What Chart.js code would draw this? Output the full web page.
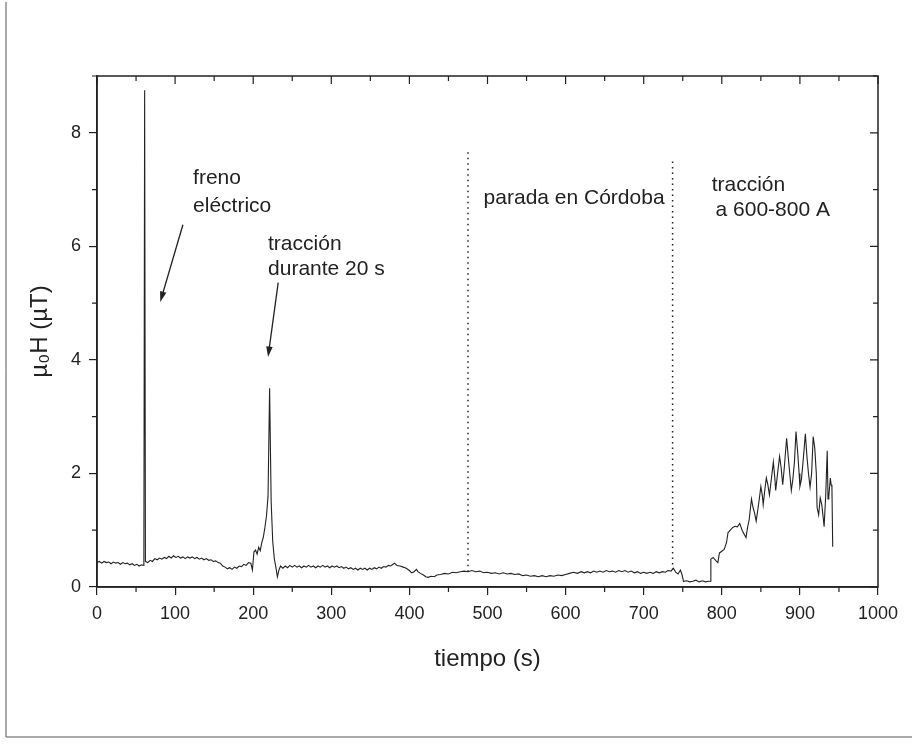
<!DOCTYPE html>
<html>
<head>
<meta charset="utf-8">
<script src="https://cdn.jsdelivr.net/npm/chart.js@4"></script>
<style>
    html, body { margin: 0; padding: 0; background: #fff; }
    #wrap { width: 912px; height: 745px; }
</style>
</head>
<body>
<div id="wrap"><canvas id="graph" width="912" height="745"></canvas></div>
<script>
// tiempo (s) y campo (µT)
const times = [
    0, 3, 6, 9, 12, 15, 18, 21, 24, 27, 30, 33, 36, 39, 42, 45, 48, 51, 54, 57, 60,
    61, 62, 65, 68, 71, 74, 77, 80, 83, 86, 89, 92, 95, 98, 101, 104, 107, 110, 113, 116, 119,
    122, 125, 128, 131, 134, 137, 140, 143, 146, 149, 152, 155, 158, 161, 164, 167, 170, 173,
    176, 179, 182, 185, 188, 191, 194, 197, 199, 201, 203, 205, 207, 209, 211, 213, 215, 217,
    219, 221, 223, 225, 227, 229, 231, 233, 235,
    238, 241, 244, 247, 250, 253, 256, 259, 262, 265, 268, 271, 274, 277, 280, 283, 286, 289,
    292, 295, 298, 301, 304, 307, 310, 313, 316, 319, 322, 325, 328, 331, 334, 337, 340, 343,
    346, 349, 352, 355, 358, 361, 364, 367, 370, 373, 376, 379, 381, 384, 388, 392, 396, 400,
    403, 406, 409, 411, 414, 418, 421, 424, 428, 432, 435, 440, 445, 450, 455, 460, 465, 470,
    475, 480, 485, 490, 495, 500, 505, 510, 515, 520, 525, 530, 535, 540, 545, 550, 555, 560,
    565, 570, 575, 580, 585, 590, 595, 600, 605, 610, 615, 620, 624, 628, 632, 636, 640, 644,
    648, 652, 656, 660, 664, 668, 672, 676, 680, 684, 688, 692, 696, 700, 704, 708, 712, 716,
    720, 724, 728, 731, 735, 738, 741, 744, 747, 749, 751, 755, 759, 763, 767, 771, 775, 779,
    783, 785, 786, 789, 792, 795, 797, 800, 803, 806, 808, 811, 814, 817, 820, 823, 826, 829,
    831, 833, 835, 838, 840, 842, 844, 846, 848, 850, 852, 853, 855, 857, 859, 861, 863, 866,
    868, 869, 871, 874, 876, 878, 880, 883, 885, 887, 889, 891, 893, 895, 897, 899, 900, 902,
    904, 907, 909, 911, 913, 915, 917, 919, 921, 922, 924, 926, 928, 930, 931, 933, 935, 936,
    937, 939, 940, 941, 942
];
const field = [
    0.43, 0.45, 0.42, 0.45, 0.43, 0.44, 0.41, 0.44, 0.42, 0.43, 0.40, 0.43, 0.41, 0.42, 0.39, 0.41, 0.38, 0.40, 0.37, 0.39, 0.38,
    8.75, 0.45, 0.43, 0.47, 0.45, 0.50, 0.48, 0.51, 0.49, 0.52, 0.50, 0.54, 0.51, 0.55, 0.52, 0.54, 0.51, 0.53, 0.50, 0.53, 0.51,
    0.53, 0.50, 0.52, 0.49, 0.51, 0.48, 0.50, 0.47, 0.48, 0.45, 0.46, 0.43, 0.42, 0.37, 0.35, 0.32, 0.34, 0.31,
    0.35, 0.33, 0.37, 0.36, 0.40, 0.38, 0.43, 0.42, 0.30, 0.62, 0.65, 0.58, 0.70, 0.64, 0.78, 0.88, 1.05, 1.25,
    1.60, 3.50, 1.50, 0.80, 0.50, 0.35, 0.18, 0.30, 0.37,
    0.33, 0.37, 0.34, 0.38, 0.35, 0.38, 0.35, 0.37, 0.34, 0.37, 0.35, 0.38, 0.35, 0.37, 0.34, 0.37, 0.35, 0.38,
    0.35, 0.37, 0.34, 0.37, 0.35, 0.37, 0.34, 0.36, 0.33, 0.35, 0.32, 0.34, 0.31, 0.33, 0.30, 0.33, 0.31, 0.33,
    0.30, 0.33, 0.31, 0.34, 0.32, 0.35, 0.33, 0.36, 0.35, 0.38, 0.37, 0.40, 0.42, 0.38, 0.37, 0.35, 0.33, 0.29,
    0.25, 0.27, 0.31, 0.27, 0.24, 0.21, 0.18, 0.17, 0.19, 0.18, 0.21, 0.22, 0.24, 0.23, 0.26, 0.25, 0.27, 0.28,
    0.27, 0.29, 0.27, 0.28, 0.25, 0.26, 0.24, 0.25, 0.23, 0.25, 0.23, 0.24, 0.22, 0.23, 0.20, 0.21, 0.19, 0.20,
    0.18, 0.20, 0.18, 0.20, 0.19, 0.21, 0.20, 0.22, 0.24, 0.26, 0.24, 0.27, 0.25, 0.27, 0.25, 0.28, 0.26, 0.28,
    0.26, 0.29, 0.27, 0.28, 0.26, 0.29, 0.27, 0.29, 0.26, 0.28, 0.25, 0.27, 0.24, 0.26, 0.24, 0.26, 0.24, 0.27,
    0.25, 0.27, 0.26, 0.29, 0.28, 0.33, 0.26, 0.23, 0.30, 0.22, 0.10, 0.11, 0.09, 0.10, 0.12, 0.09, 0.11, 0.09,
    0.10, 0.10, 0.49, 0.52, 0.47, 0.43, 0.60, 0.63, 0.66, 0.78, 0.96, 1.00, 1.05, 1.07, 1.06, 1.12, 1.00, 0.92,
    0.87, 1.05, 1.18, 1.55, 1.40, 1.30, 1.16, 1.35, 1.55, 1.77, 1.60, 1.45, 1.70, 1.92, 1.80, 1.62, 1.85, 2.20,
    1.90, 1.70, 1.95, 2.30, 2.10, 1.80, 2.10, 2.62, 2.30, 2.00, 1.70, 1.90, 2.20, 2.74, 2.40, 2.00, 1.77, 1.90,
    2.20, 2.70, 2.30, 2.00, 1.76, 2.00, 2.65, 2.45, 2.00, 1.40, 1.27, 1.57, 1.45, 1.20, 1.06, 1.60, 2.40, 1.55,
    1.60, 1.92, 1.80, 1.77, 0.71
];

// líneas punteadas: inicio y fin de la parada
const stopTimes = [475, 737];
const stopTops = [7.7, 7.5];
const stopBase = [0.27, 0.30];

const xTicks = [0, 100, 200, 300, 400, 500, 600, 700, 800, 900, 1000];
const xMinor = [50, 150, 250, 350, 450, 550, 650, 750, 850, 950];
const yTicks = [0, 2, 4, 6, 8];
const yMinor = [1, 3, 5, 7, 9];

// textos y flechas, en coordenadas de datos
const notes = [
    { text: 'freno', x: 123, y: 7.2 },
    { text: 'eléctrico', x: 123, y: 6.71 },
    { text: 'tracción', x: 219, y: 6.03 },
    { text: 'durante 20 s', x: 219, y: 5.59 },
    { text: 'parada en Córdoba', x: 495, y: 6.85 },
    { text: 'tracción', x: 787, y: 7.07 },
    { text: 'a 600-800 A', x: 792, y: 6.63 }
];
const arrows = [
    { from: [110, 6.38], to: [81, 5.02] },
    { from: [232, 5.36], to: [219, 4.05] }
];

const ink = '#222';
const font = '"Liberation Sans", Arial, sans-serif';

const points = times.map((t, i) => ({ x: t, y: field[i] }));
const stopSets = stopTimes.map((t, i) => ({
    data: [{ x: t, y: stopBase[i] }, { x: t, y: stopTops[i] }],
    borderColor: ink,
    borderWidth: 1.5,
    borderDash: [1.5, 4],
    pointRadius: 0
}));

const framePlugin = {
    id: 'frame',
    afterDraw(chart) {
        const ctx = chart.ctx;
        const a = chart.chartArea;
        const xs = chart.scales.x;
        const ys = chart.scales.y;
        ctx.save();
        ctx.strokeStyle = ink;
        ctx.lineWidth = 1.5;
        ctx.strokeRect(a.left, a.top, a.right - a.left, a.bottom - a.top);

        ctx.lineWidth = 1.2;
        ctx.beginPath();
        xTicks.forEach(v => {
            const px = xs.getPixelForValue(v);
            ctx.moveTo(px, a.top); ctx.lineTo(px, a.top + 8);
        });
        xMinor.forEach(v => {
            const px = xs.getPixelForValue(v);
            ctx.moveTo(px, a.bottom); ctx.lineTo(px, a.bottom + 5);
            ctx.moveTo(px, a.top); ctx.lineTo(px, a.top + 5);
        });
        yTicks.forEach(v => {
            const py = ys.getPixelForValue(v);
            ctx.moveTo(a.right, py); ctx.lineTo(a.right - 8, py);
        });
        yMinor.forEach(v => {
            const py = ys.getPixelForValue(v);
            ctx.moveTo(a.left, py); ctx.lineTo(a.left - 5, py);
            ctx.moveTo(a.right, py); ctx.lineTo(a.right - 5, py);
        });
        ctx.stroke();

        // textos
        ctx.fillStyle = ink;
        ctx.font = '21px ' + font;
        ctx.textBaseline = 'middle';
        ctx.textAlign = 'left';
        notes.forEach(n => {
            ctx.fillText(n.text, xs.getPixelForValue(n.x), ys.getPixelForValue(n.y));
        });

        // flechas
        arrows.forEach(ar => {
            const x0 = xs.getPixelForValue(ar.from[0]);
            const y0 = ys.getPixelForValue(ar.from[1]);
            const x1 = xs.getPixelForValue(ar.to[0]);
            const y1 = ys.getPixelForValue(ar.to[1]);
            const ang = Math.atan2(y1 - y0, x1 - x0);
            ctx.lineWidth = 1.3;
            ctx.beginPath();
            ctx.moveTo(x0, y0);
            ctx.lineTo(x1 - 8 * Math.cos(ang), y1 - 8 * Math.sin(ang));
            ctx.stroke();
            ctx.beginPath();
            ctx.moveTo(x1, y1);
            ctx.lineTo(x1 - 11 * Math.cos(ang - 0.3), y1 - 11 * Math.sin(ang - 0.3));
            ctx.lineTo(x1 - 11 * Math.cos(ang + 0.3), y1 - 11 * Math.sin(ang + 0.3));
            ctx.closePath();
            ctx.fill();
        });

        // marco de la página
        ctx.strokeStyle = '#555';
        ctx.lineWidth = 1;
        ctx.beginPath();
        ctx.moveTo(6, 2); ctx.lineTo(6, 737); ctx.lineTo(912, 737);
        ctx.stroke();
        ctx.restore();
    }
};

new Chart(document.getElementById('graph'), {
    type: 'line',
    data: {
        datasets: [{
            data: points,
            borderColor: ink,
            borderWidth: 1.1,
            pointRadius: 0,
            tension: 0
        }, ...stopSets]
    },
    options: {
        responsive: false,
        animation: false,
        events: [],
        layout: { padding: { top: 76, right: 34, left: 0, bottom: 0 } },
        plugins: { legend: { display: false }, tooltip: { enabled: false } },
        scales: {
            x: {
                type: 'linear',
                min: 0,
                max: 1000,
                afterBuildTicks: s => { s.ticks = xTicks.map(v => ({ value: v })); },
                afterFit: s => { s.height = 158; },
                grid: { drawOnChartArea: false, tickLength: 8, tickColor: ink, lineWidth: 1.2 },
                border: { color: ink, width: 1.5 },
                ticks: { color: ink, font: { family: font, size: 18 }, padding: 8, maxRotation: 0, callback: v => String(v) },
                title: { display: true, text: 'tiempo (s)', color: ink, font: { family: font, size: 24 }, padding: { top: 10, bottom: 71 } }
            },
            y: {
                type: 'linear',
                min: 0,
                max: 9,
                afterBuildTicks: s => { s.ticks = yTicks.map(v => ({ value: v })); },
                afterFit: s => { s.width = 97; },
                grid: { drawOnChartArea: false, tickLength: 8, tickColor: ink, lineWidth: 1.2 },
                border: { color: ink, width: 1.5 },
                ticks: { color: ink, font: { family: font, size: 18 }, padding: 8 },
                title: { display: true, text: 'µ₀H (µT)', color: ink, font: { family: font, size: 24 }, padding: { top: 26 } }
            }
        }
    },
    plugins: [framePlugin]
});
</script>
</body>
</html>
